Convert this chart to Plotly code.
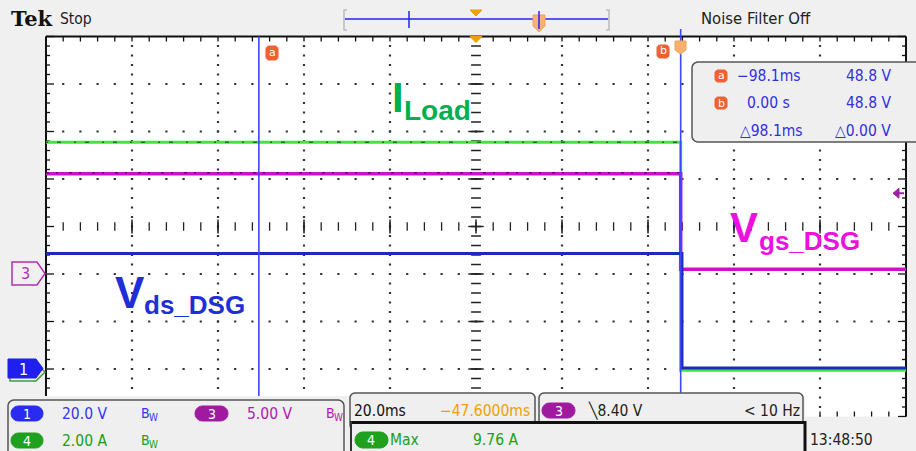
import plotly.graph_objects as go
import numpy as np

TIME_CH1_MS = [-147.6, 0.3, 0.3, 52.4]
CH1_VOLTS = [48.6, 48.6, 0.4, 0.4]          # Vds_DSG, 20 V/div
TIME_CH3_MS = [-147.6, 0.0, 0.0, 52.4]
CH3_VOLTS = [10.45, 10.45, 0.4, 0.4]        # Vgs_DSG, 5 V/div
TIME_CH4_MS = [-147.6, 0.0, 0.0, 52.4]
CH4_AMPS = [9.65, 9.65, 0.05, 0.05]         # ILoad, 2 A/div
CURSOR_A_MS = -98.1
CURSOR_B_MS = 0.0
TRIG_LEVEL_V = 8.40

# channel settings (scale per div, ground position in div)
CH1_SCALE, CH1_POS = 20.0, -3.0
CH3_SCALE, CH3_POS = 5.0, -0.98
CH4_SCALE, CH4_POS = 2.0, -3.05
T_DIV = 20.0
T_CENTER = -47.6
X_RANGE = [T_CENTER - 5 * T_DIV, T_CENTER + 5 * T_DIV]

W, H = 916, 451
GX0, GX1, GY0, GY1 = 46, 906, 36.5, 416.5


def X(px):
    return px / W


def Y(py):
    return 1 - py / H


def tx(t):
    return GX0 + (t - X_RANGE[0]) / (X_RANGE[1] - X_RANGE[0]) * (GX1 - GX0)


def ty(d):
    return GY0 + (4 - d) / 8 * (GY1 - GY0)


def path(pts, close=True):
    s = 'M ' + ' L '.join(f'{X(a):.5f},{Y(b):.5f}' for a, b in pts)
    return s + (' Z' if close else '')


def rr_pts(x0, y0, x1, y1, r):
    pts = []
    corners = [(x1 - r, y0 + r, -90), (x1 - r, y1 - r, 0), (x0 + r, y1 - r, 90), (x0 + r, y0 + r, 180)]
    for cx, cy, a0 in corners:
        for k in range(7):
            a = np.radians(a0 + k * 15)
            pts.append((cx + r * np.cos(a), cy + r * np.sin(a)))
    return pts


shapes = []
annots = []


def add_shape(pts, fill=None, line='black', lw=1, close=True, layer='above'):
    shapes.append(dict(type='path', xref='paper', yref='paper', path=path(pts, close),
                       fillcolor=fill if fill else 'rgba(0,0,0,0)',
                       line=dict(color=line if line else 'rgba(0,0,0,0)', width=lw), layer=layer))


def add_line(x0, y0, x1, y1, color='black', lw=1, layer='above'):
    shapes.append(dict(type='line', xref='paper', yref='paper', x0=X(x0), y0=Y(y0), x1=X(x1), y1=Y(y1),
                       line=dict(color=color, width=lw), layer=layer))


def add_rect(x0, y0, x1, y1, fill, line=None, lw=0, layer='above'):
    shapes.append(dict(type='rect', xref='paper', yref='paper', x0=X(x0), y0=Y(y0), x1=X(x1), y1=Y(y1),
                       fillcolor=fill, line=dict(color=line if line else 'rgba(0,0,0,0)', width=lw), layer=layer))


SCOPE_FONT = 'DejaVu Sans Condensed, DejaVu Sans, sans-serif'


def text(s, x, y, color='black', size=15, anchor='left', family=SCOPE_FONT, yanchor='middle', weight='normal'):
    annots.append(dict(text=s, x=X(x), y=Y(y), xref='paper', yref='paper', xanchor=anchor, yanchor=yanchor,
                       showarrow=False, font=dict(color=color, size=size, family=family, weight=weight)))


def bw(x, y, color):
    text('B', x, y, color, 14)
    text('W', x + 8, y + 4, color, 10)


fig = go.Figure()

# ---------------- graticule ----------------
xmaj = [X_RANGE[0] + k * T_DIV for k in range(11)]
xmin = np.arange(X_RANGE[0], X_RANGE[1] + 1e-6, T_DIV / 5)
ymin = np.arange(-4, 4 + 1e-6, 0.2)
dots_x, dots_y = [], []
for yy in [-3, -2, -1, 1, 2, 3]:
    for xx in xmin:
        dots_x.append(xx); dots_y.append(yy)
for xx in xmaj[1:-1]:
    if abs(xx - T_CENTER) < 1e-6:
        continue
    for yy in ymin:
        dots_x.append(xx); dots_y.append(yy)
fig.add_trace(go.Scatter(x=dots_x, y=dots_y, mode='markers', hoverinfo='skip',
                         marker=dict(size=2.2, color='#333333', symbol='square'), showlegend=False))
# center cross ticks
fig.add_trace(go.Scatter(x=list(xmin), y=[0] * len(xmin), mode='markers', hoverinfo='skip', showlegend=False,
                         marker=dict(symbol='line-ns', size=6, line=dict(width=1.3, color='#222'))))
fig.add_trace(go.Scatter(x=[T_CENTER] * len(ymin), y=list(ymin), mode='markers', hoverinfo='skip', showlegend=False,
                         marker=dict(symbol='line-ew', size=7, line=dict(width=1.3, color='#222'))))
fig.add_trace(go.Scatter(x=[T_CENTER] * 9, y=list(range(-4, 5)), mode='markers', hoverinfo='skip', showlegend=False,
                         marker=dict(symbol='line-ew', size=11, line=dict(width=1.5, color='#222'))))
fig.add_trace(go.Scatter(x=xmaj, y=[0] * len(xmaj), mode='markers', hoverinfo='skip', showlegend=False,
                         marker=dict(symbol='line-ns', size=10, line=dict(width=1.5, color='#222'))))

# ---------------- waveforms ----------------
ch4_div = [a / CH4_SCALE + CH4_POS for a in CH4_AMPS]
ch3_div = [v / CH3_SCALE + CH3_POS for v in CH3_VOLTS]
ch1_div = [v / CH1_SCALE + CH1_POS for v in CH1_VOLTS]

fig.add_trace(go.Scatter(x=TIME_CH4_MS, y=ch4_div, mode='lines', line=dict(color='#3ee63e', width=3),
                         hoverinfo='skip', showlegend=False))
fig.add_trace(go.Scatter(x=TIME_CH4_MS[:2], y=ch4_div[:2], mode='lines', hoverinfo='skip', showlegend=False,
                         line=dict(color='rgba(20,60,20,0.7)', width=1.5, dash='2px,9px,4px,13px')))
fig.add_trace(go.Scatter(x=TIME_CH3_MS, y=ch3_div, mode='lines', line=dict(color='#cc10cc', width=3.5),
                         hoverinfo='skip', showlegend=False))
fig.add_trace(go.Scatter(x=TIME_CH3_MS[:2], y=[d + 0.02 for d in ch3_div[:2]], mode='lines', hoverinfo='skip',
                         showlegend=False,
                         line=dict(color='rgba(50,0,50,0.7)', width=1.5, dash='3px,7px,2px,11px')))
fig.add_trace(go.Scatter(x=TIME_CH1_MS, y=ch1_div, mode='lines', line=dict(color='#1c2ab8', width=3),
                         hoverinfo='skip', showlegend=False))

# ---------------- graticule frame + border ticks ----------------
add_line(GX0, GY0, GX1, GY0, '#111', 2, 'below')
add_line(GX0, GY0, GX0, GY1, '#111', 2, 'below')
add_line(GX1, GY0, GX1, GY1, '#111', 2, 'below')
for xx in xmin:
    p = tx(xx)
    L = 5
    add_line(p, GY0, p, GY0 + L, '#111', 1.3, 'below')
    add_line(p, GY1, p, GY1 - L, '#111', 1.3, 'below')
for yy in ymin:
    p = ty(yy)
    L = 8 if abs(yy - round(yy)) < 1e-6 else 4
    add_line(GX0, p, GX0 + L, p, '#111', 1.3, 'below')
    add_line(GX1, p, GX1 - L, p, '#111', 1.3, 'below')

# ---------------- cursors ----------------
ax_px, bx_px = tx(CURSOR_A_MS), tx(CURSOR_B_MS)
add_line(ax_px, GY0, ax_px, 398, '#3a46ff', 1.6)
add_line(bx_px, GY0, bx_px, 398, '#3a46ff', 1.6)
add_line(bx_px, 29, bx_px, GY0, '#3a46ff', 1.6)
# cursor badges
add_shape(rr_pts(266, 46, 278, 60, 3), fill='#f06030', line='#f06030', lw=1)
text('a', 272, 52.5, 'white', 11, 'center', 'DejaVu Sans')
add_shape(rr_pts(657, 45, 669, 58, 3), fill='#f06030', line='#f06030', lw=1)
text('b', 663, 51, 'white', 11, 'center', 'DejaVu Sans')
add_shape([(675, 41), (686, 41), (686, 50), (680.5, 54), (675, 50)], fill='#f8b070', line='#f0a050', lw=1)
# trigger position marker (top centre)
tcx = tx(T_CENTER)
add_shape([(tcx - 6, GY0), (tcx + 6, GY0), (tcx, GY0 + 6)], fill='#f0a000', line='#f0a000')
# trigger level arrow (right)
tl = ty(TRIG_LEVEL_V / CH3_SCALE + CH3_POS)
add_shape([(893, tl), (899, tl - 5), (899, tl + 5)], fill='#a020a0', line='#a020a0')
add_line(898, tl, 904, tl, '#a020a0', 2)

# ---------------- left channel markers ----------------
add_shape([(10, 364), (36, 364), (45, 372), (36, 381), (10, 381)], fill='#f0f0f0', line='#3ca03c', lw=1.5)
add_shape([(8, 359), (36, 359), (43, 368.5), (36, 378), (8, 378)], fill='#2020ee', line='#2020ee', lw=1)
text('1', 23, 369, 'white', 16, 'center')
add_shape([(12, 262), (37, 262), (45, 273.5), (37, 285), (12, 285)], fill='#f0f0f0', line='#b030b0', lw=1.5)
text('3', 25, 273.5, '#b030b0', 16, 'center')

# ---------------- top bar ----------------
text('Tek', 9, 18, '#111', 21, 'left', 'DejaVu Serif, serif', weight='bold')
text('Stop', 58, 19, '#222', 15.5)
add_line(345, 19, 608, 19, '#2424f0', 1.5)
add_shape([(347, 10), (344, 10), (344, 30), (347, 30)], close=False, line='#bbbbbb', lw=1.5)
add_shape([(606, 10), (609, 10), (609, 30), (606, 30)], close=False, line='#bbbbbb', lw=1.5)
add_line(409, 11, 409, 28, '#2424f0', 1.5)
add_shape([(470, 10), (482, 10), (476, 16)], fill='#f0a000', line='#f0a000')
add_shape([(533, 15), (545, 15), (545, 26), (539, 32), (533, 26)], fill='#f7b27a', line='#f0a060', lw=1)
add_line(539, 11, 539, 29, '#2424f0', 1.5)
text('Noise Filter Off', 756, 19, '#222', 16.5, 'center')

# ---------------- cursor readout box ----------------
add_shape(rr_pts(692, 62, 930, 142, 6), fill='#efefef', line='#555', lw=1.5)
BL = '#3030e0'
add_shape(rr_pts(715, 70, 727, 82, 3), fill='#f06030', line='#f06030')
text('a', 721, 76, 'white', 11, 'center', 'DejaVu Sans')
add_shape(rr_pts(715, 97, 727, 109, 3), fill='#f06030', line='#f06030')
text('b', 721, 103, 'white', 11, 'center', 'DejaVu Sans')
text(f'\u2212{abs(CURSOR_A_MS):.1f}ms', 803, 76, BL, 15.5, 'right')
text('48.8 V', 893, 76, BL, 15.5, 'right')
text(f'{CURSOR_B_MS:.2f} s', 792, 103, BL, 15.5, 'right')
text('48.8 V', 893, 103, BL, 15.5, 'right')
text(f'\u25b3{CURSOR_B_MS - CURSOR_A_MS:.1f}ms', 805, 131, BL, 15.5, 'right')
text('\u25b30.00 V', 893, 131, BL, 15.5, 'right')

# ---------------- signal labels ----------------
LAB = 'Liberation Sans, Arial, sans-serif'
text('I', 390, 97, '#00b050', 42, 'left', LAB, weight='bold')
text('Load', 402, 110, '#00b050', 28, 'left', LAB, weight='bold')
text('V', 113, 292, '#1f2fd8', 44, 'left', LAB, weight='bold')
text('ds_DSG', 142, 305, '#1f2fd8', 26, 'left', LAB, weight='bold')
text('V', 728, 227, '#ee10e0', 42, 'left', LAB, weight='bold')
text('gs_DSG', 757, 241, '#ee10e0', 26, 'left', LAB, weight='bold')

# ---------------- bottom readout ----------------
add_shape([(0, 396), (805, 396), (805, 417.5), (916, 417.5), (916, 460), (0, 460)], fill='#f0f0f0', line=None, lw=0)
add_shape(rr_pts(8, 400, 344, 470, 6), fill='#efefef', line='#555', lw=1.5)
add_shape(rr_pts(11, 406, 43, 421, 7.5), fill='#2a2af0', line='#2a2af0')
text('1', 27, 413.5, 'white', 14, 'center')
text('20.0 V', 60, 413.5, '#3535f0', 15.5)
bw(139, 413, '#3535f0')
add_shape(rr_pts(195, 406, 228, 421, 7.5), fill='#a01aa0', line='#a01aa0')
text('3', 211.5, 413.5, 'white', 14, 'center')
text('5.00 V', 245, 413.5, '#b020b0', 15.5)
bw(324, 413, '#b020b0')
add_shape(rr_pts(11, 433, 43, 448, 7.5), fill='#1fa01f', line='#1fa01f')
text('4', 27, 440.5, 'white', 14, 'center')
text('2.00 A', 60, 440.5, '#18a018', 15.5)
bw(139, 440, '#18a018')

add_shape(rr_pts(350, 393, 535, 430, 5), fill='#efefef', line='#555', lw=1.5)
text(f'{T_DIV:.1f}ms', 352, 410.5, '#111', 15.5)
text(f'\u2212{abs(T_CENTER):.4f}ms', 532, 410.5, '#f0a000', 15.5, 'right')
add_shape(rr_pts(539, 393, 803, 430, 5), fill='#efefef', line='#555', lw=1.5)
add_shape(rr_pts(542, 403, 575, 418, 7.5), fill='#a01aa0', line='#a01aa0')
text('3', 558.5, 410.5, 'white', 14, 'center')
text(f'\u2572{TRIG_LEVEL_V:.2f} V', 586, 410.5, '#222', 15.5)
text('&lt; 10 Hz', 802, 410.5, '#222', 15.5, 'right')
add_shape([(350, 421.5), (805, 421.5), (805, 460), (350, 460)], fill='#efefef', line=None, lw=0)
add_line(350, 422.5, 806, 422.5, '#111', 3)
add_line(805, 421, 805, 451, '#111', 3)
add_line(351, 421, 351, 451, '#333', 2)
add_shape(rr_pts(355, 432, 388, 448, 8), fill='#1fa01f', line='#1fa01f')
text('4', 371, 440, 'white', 14, 'center')
text('Max', 388, 440, '#18a018', 15.5)
text('9.76 A', 520, 440, '#18a018', 15.5, 'right')
text('13:48:50', 808, 440, '#222', 15.5)

fig.update_layout(
    width=W, height=H, margin=dict(l=0, r=0, t=0, b=0),
    paper_bgcolor='#f0f0f0', plot_bgcolor='white',
    xaxis=dict(range=X_RANGE, domain=[X(GX0), X(GX1)], visible=False, fixedrange=True),
    yaxis=dict(range=[-4, 4], domain=[Y(GY1), Y(GY0)], visible=False, fixedrange=True),
    shapes=shapes, annotations=annots, showlegend=False,
)
fig.write_html('out.html')
